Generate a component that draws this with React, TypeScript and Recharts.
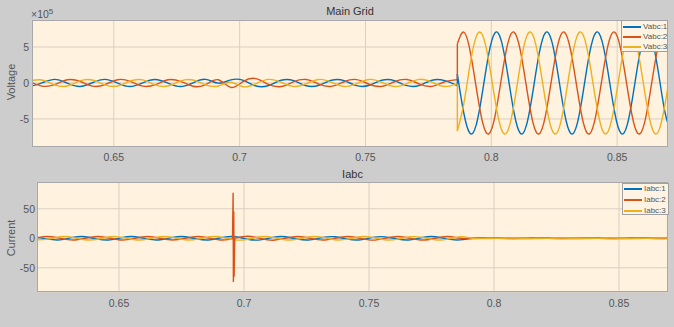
import { LineChart, Line, XAxis, YAxis, CartesianGrid } from "recharts";

// voltage in units of 1e5 V, time in seconds
const timePre = [
  0.6165, 0.6215, 0.6265, 0.6315, 0.6365, 0.6415, 0.6465, 0.6515, 0.6565, 0.6615, 0.6665, 0.6715,
  0.6765, 0.6815, 0.6865, 0.6915, 0.6965, 0.7015, 0.7065, 0.7115, 0.7165, 0.7215, 0.7265, 0.7315,
  0.7365, 0.7415, 0.7465, 0.7515, 0.7565, 0.7615, 0.7665, 0.7715, 0.7765, 0.7815, 0.7865,
];
const vabc1Pre = [
  -0.5, 0.02, 0.5, -0.02, -0.49, 0.03, 0.5, -0.02, -0.5, 0.02, 0.49, -0.02, -0.5, 0.02, 0.5, -0.03,
  0.42, 0.36, -0.42, -0.35, 0.38, 0.32, -0.39, -0.32, 0.38, 0.33, -0.38, -0.32, 0.37, 0.32, -0.38,
  -0.33, 0.38, 0.32, -0.38,
];
const vabc2Pre = [
  0.23, -0.44, -0.23, 0.44, 0.24, -0.44, -0.23, 0.45, 0.23, -0.44, -0.24, 0.44, 0.23, -0.45, -0.23,
  0.44, -0.62, 0.22, 0.6, -0.21, -0.5, 0.18, 0.48, -0.17, -0.47, 0.17, 0.47, -0.18, -0.47, 0.17,
  0.48, -0.17, -0.47, 0.17, 0.47,
];
const vabc3Pre = [
  0.27, 0.42, -0.27, -0.42, 0.28, 0.41, -0.27, -0.43, 0.27, 0.42, -0.26, -0.42, 0.27, 0.41, -0.27,
  -0.42, 0.1, -0.52, -0.09, 0.5, 0.09, -0.49, -0.1, 0.49, 0.09, -0.5, -0.09, 0.49, 0.08, -0.49,
  -0.09, 0.5, 0.09, -0.49, -0.09,
];

const timePost = [
  0.7865, 0.789, 0.7915, 0.794, 0.7965, 0.799, 0.8015, 0.804, 0.8065, 0.809, 0.8115, 0.814, 0.8165,
  0.819, 0.8215, 0.824, 0.8265, 0.829, 0.8315, 0.834, 0.8365, 0.839, 0.8415, 0.844, 0.8465, 0.849,
  0.8515, 0.854, 0.8565, 0.859, 0.8615, 0.864, 0.8665, 0.869, 0.8715,
];
const vabc1Post = [
  1.23, -4.07, -6.99, -5.82, -1.23, 4.07, 6.99, 5.82, 1.23, -4.07, -6.99, -5.82, -1.23, 4.07, 6.99,
  5.82, 1.23, -4.07, -6.99, -5.82, -1.23, 4.07, 6.99, 5.82, 1.23, -4.07, -6.99, -5.82, -1.23, 4.07,
  6.99, 5.82, 1.23, -4.07, -6.99,
];
const vabc2Post = [
  5.44, 7.07, 4.56, -0.62, -5.44, -7.07, -4.56, 0.62, 5.44, 7.07, 4.56, -0.62, -5.44, -7.07, -4.56,
  0.62, 5.44, 7.07, 4.56, -0.62, -5.44, -7.07, -4.56, 0.62, 5.44, 7.07, 4.56, -0.62, -5.44, -7.07,
  -4.56, 0.62, 5.44, 7.07, 4.56,
];
const vabc3Post = [
  -6.67, -3.0, 2.43, 6.44, 6.67, 3.0, -2.43, -6.44, -6.67, -3.0, 2.43, 6.44, 6.67, 3.0, -2.43, -6.44,
  -6.67, -3.0, 2.43, 6.44, 6.67, 3.0, -2.43, -6.44, -6.67, -3.0, 2.43, 6.44, 6.67, 3.0, -2.43, -6.44,
  -6.67, -3.0, 2.43,
];

// the step at the switching instant
const timeStep = [0.7865, 0.7865];
const vabc1Step = [-0.38, 1.23];
const vabc2Step = [0.47, 5.44];
const vabc3Step = [-0.09, -6.67];

// currents in A
const timeI = [
  0.6165, 0.6215, 0.6265, 0.6315, 0.6365, 0.6415, 0.6465, 0.6515, 0.6565, 0.6615, 0.6665, 0.6715,
  0.6765, 0.6815, 0.6865, 0.6915, 0.6965, 0.7015, 0.7065, 0.7115, 0.7165, 0.7215, 0.7265, 0.7315,
  0.7365, 0.7415, 0.7465, 0.7515, 0.7565, 0.7615, 0.7665, 0.7715, 0.7765, 0.7815, 0.7865, 0.7915,
  0.7965, 0.8015, 0.8065, 0.8115, 0.8165, 0.8215, 0.8265, 0.8315, 0.8365, 0.8415, 0.8465, 0.8515,
  0.8565, 0.8615, 0.8665, 0.8715,
];
const iabc1 = [
  2.6, -1.5, -2.6, 1.5, 2.7, -1.4, -2.6, 1.6, 2.6, -1.5, -2.5, 1.5, 2.6, -1.5, -2.6, 1.5, 2.8, -1.7,
  -2.7, 1.5, 2.6, -1.5, -2.6, 1.4, 2.6, -1.5, -2.6, 1.5, 2.5, -1.5, -2.6, 1.5, 2.6, -1.5, -2.6, 0.2,
  0.35, -0.2, -0.35, 0.2, 0.35, -0.2, -0.35, 0.2, 0.3, -0.2, -0.35, 0.2, 0.35, -0.2, -0.3, 0.2,
];
const iabc2 = [
  0.0, 3.0, 0.1, -3.0, 0.0, 3.1, 0.0, -3.0, 0.1, 3.0, 0.0, -2.9, 0.0, 3.0, 0.0, -3.0, 0.2, 3.4, -0.1,
  -3.2, 0.0, 3.0, 0.1, -3.0, 0.0, 3.0, 0.0, -3.1, 0.0, 3.0, 0.0, -3.0, 0.1, 3.0, 0.0, -0.4, 0.0, 0.4,
  0.0, -0.4, 0.0, 0.4, 0.0, -0.4, 0.0, 0.4, 0.0, -0.4, 0.0, 0.4, 0.0, -0.4,
];
const iabc3 = [
  -2.6, -1.5, 2.6, 1.5, -2.6, -1.6, 2.6, 1.4, -2.6, -1.5, 2.7, 1.5, -2.6, -1.5, 2.6, 1.5, -2.7, -1.6,
  2.7, 1.5, -2.6, -1.5, 2.6, 1.5, -2.5, -1.5, 2.6, 1.5, -2.6, -1.4, 2.6, 1.5, -2.6, -1.5, 2.6, 0.2,
  -0.35, -0.2, 0.35, 0.2, -0.35, -0.2, 0.35, 0.2, -0.3, -0.2, 0.35, 0.2, -0.35, -0.2, 0.35, 0.2,
];

// transient spike on phase 2
const timeSpike = [0.6954, 0.69565, 0.69575, 0.6959, 0.69605, 0.6963];
const iabc2Spike = [0.5, 77, -74, 46, -65, 0.3];

const xTicks = [0.65, 0.7, 0.75, 0.8, 0.85];
const vTicks = [-5, 0, 5];
const iTicks = [-50, 0, 50];

const BLUE = "#0072bd";
const RED = "#d95319";
const YELLOW = "#edb120";
const PLOT_BG = "#fff2de";
const GRID = "#d9d0c2";
const TEXT = "#555";
const FONT = "'Liberation Sans', Arial, sans-serif";

const pts = (ts: number[], vs: number[]) => ts.map((t, i) => ({ t, v: vs[i] }));

const tickStyle = { fontSize: 10.5, fill: TEXT };

function Trace({ data, color, type = "natural" }: { data: any[]; color: string; type?: any }) {
  return (
    <Line
      data={data}
      dataKey="v"
      type={type}
      stroke={color}
      strokeWidth={1.4}
      dot={false}
      activeDot={false}
      isAnimationActive={false}
    />
  );
}

function LegendBox({ left, top, labels, rowTop, rowH }: any) {
  const colors = [BLUE, RED, YELLOW];
  return (
    <div
      style={{
        position: "absolute",
        left,
        top,
        width: 47,
        height: 32,
        boxSizing: "border-box",
        border: "1px solid #a0a0a0",
        background: "#fff4e4",
        fontSize: 8,
        color: TEXT,
      }}
    >
      {labels.map((l: string, i: number) => (
        <div key={l} style={{ position: "absolute", left: 1, top: rowTop + i * rowH, height: 10, width: 46 }}>
          <div style={{ position: "absolute", left: 0, top: 4, width: 18, height: 2, background: colors[i] }} />
          <div style={{ position: "absolute", left: 20, top: 0, lineHeight: "10px", whiteSpace: "nowrap" }}>{l}</div>
        </div>
      ))}
    </div>
  );
}

function Border({ left, top, width, height }: any) {
  return (
    <div
      style={{
        position: "absolute",
        left,
        top,
        width,
        height,
        boxSizing: "border-box",
        border: "1px solid #a8a8a8",
        pointerEvents: "none",
      }}
    />
  );
}

function VLabel({ text, cx, cy }: any) {
  return (
    <div
      style={{
        position: "absolute",
        left: cx - 40,
        top: cy - 7,
        width: 80,
        height: 14,
        lineHeight: "14px",
        textAlign: "center",
        fontSize: 11,
        color: TEXT,
        transform: "rotate(-90deg)",
      }}
    >
      {text}
    </div>
  );
}

export default function App() {
  return (
    <div
      style={{
        position: "absolute",
        left: 0,
        top: 0,
        width: 674,
        height: 327,
        background: "#cdcdcd",
        fontFamily: FONT,
        overflow: "hidden",
      }}
    >
      <div style={{ position: "absolute", left: 0, top: 0 }}>
        <LineChart width={674} height={170} margin={{ top: 20, right: 6, bottom: 0, left: 0 }}>
          <CartesianGrid stroke={GRID} fill={PLOT_BG} />
          <XAxis
            type="number"
            dataKey="t"
            domain={[0.6175, 0.8702]}
            ticks={xTicks}
            interval={0}
            allowDataOverflow
            tickFormatter={(v) => String(v)}
            tickLine={false}
            axisLine={false}
            height={23}
            tickSize={5}
            tickMargin={2}
            tick={tickStyle}
          />
          <YAxis
            type="number"
            domain={[-8.9, 8.75]}
            ticks={vTicks}
            interval={0}
            allowDataOverflow
            width={32}
            tickLine={false}
            axisLine={false}
            tickSize={1}
            tickMargin={2}
            tick={tickStyle}
          />
          <Trace data={pts(timePre, vabc1Pre)} color={BLUE} />
          <Trace data={pts(timePre, vabc2Pre)} color={RED} />
          <Trace data={pts(timePre, vabc3Pre)} color={YELLOW} />
          <Trace data={pts(timePost, vabc1Post)} color={BLUE} />
          <Trace data={pts(timePost, vabc2Post)} color={RED} />
          <Trace data={pts(timePost, vabc3Post)} color={YELLOW} />
          <Trace data={pts(timeStep, vabc1Step)} color={BLUE} type="linear" />
          <Trace data={pts(timeStep, vabc3Step)} color={YELLOW} type="linear" />
          <Trace data={pts(timeStep, vabc2Step)} color={RED} type="linear" />
        </LineChart>
      </div>
      <Border left={32} top={20} width={636} height={127} />
      <div
        style={{ position: "absolute", left: 32, top: 4, width: 636, textAlign: "center", fontSize: 11, lineHeight: "14px", color: "#333" }}
      >
        Main Grid
      </div>
      <div style={{ position: "absolute", left: 31, top: 8, fontSize: 10.5, lineHeight: "12px", color: TEXT }}>
        ×10<span style={{ fontSize: 8, position: "relative", top: -4 }}>5</span>
      </div>
      <VLabel text="Voltage" cx={11} cy={82} />
      <LegendBox left={621} top={20} labels={["Vabc:1", "Vabc:2", "Vabc:3"]} rowTop={0.7} rowH={10} />

      <div style={{ position: "absolute", left: 0, top: 162 }}>
        <LineChart width={674} height={165} margin={{ top: 20, right: 6, bottom: 0, left: 0 }}>
          <CartesianGrid stroke={GRID} fill={PLOT_BG} />
          <XAxis
            type="number"
            dataKey="t"
            domain={[0.6172, 0.8696]}
            ticks={xTicks}
            interval={0}
            allowDataOverflow
            tickFormatter={(v) => String(v)}
            tickLine={false}
            axisLine={false}
            height={35}
            tickSize={6}
            tickMargin={2}
            tick={tickStyle}
          />
          <YAxis
            type="number"
            domain={[-91, 95.4]}
            ticks={iTicks}
            interval={0}
            allowDataOverflow
            width={37}
            tickLine={false}
            axisLine={false}
            tickSize={1}
            tickMargin={1}
            tick={tickStyle}
          />
          <Trace data={pts(timeI, iabc1)} color={BLUE} />
          <Trace data={pts(timeI, iabc2)} color={RED} />
          <Trace data={pts(timeI, iabc3)} color={YELLOW} />
          <Trace data={pts(timeSpike, iabc2Spike)} color={RED} type="linear" />
        </LineChart>
      </div>
      <Border left={37} top={182} width={631} height={110} />
      <div
        style={{ position: "absolute", left: 37, top: 166.5, width: 631, textAlign: "center", fontSize: 11, lineHeight: "14px", color: "#333" }}
      >
        Iabc
      </div>
      <VLabel text="Current" cx={11} cy={238} />
      <LegendBox left={622} top={183} labels={["Iabc:1", "Iabc:2", "Iabc:3"]} rowTop={0} rowH={11} />
    </div>
  );
}
